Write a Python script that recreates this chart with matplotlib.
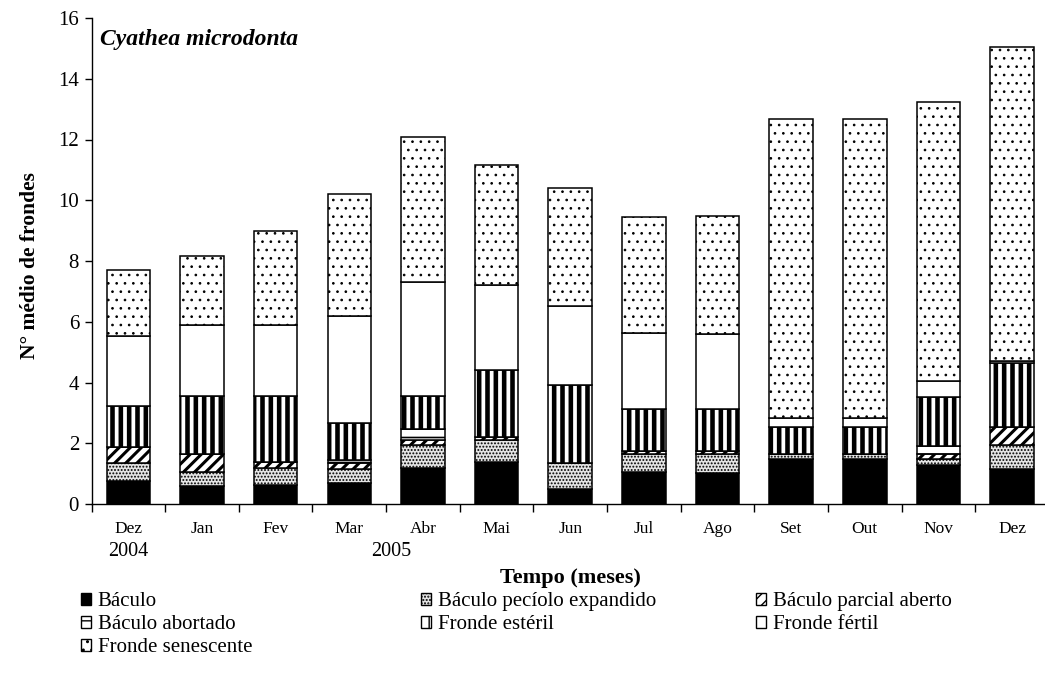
import matplotlib
matplotlib.use('Agg')
import matplotlib.pyplot as plt
from matplotlib.patches import Patch
import matplotlib.transforms as mtransforms

plt.rcParams['font.family'] = ['Liberation Serif', 'DejaVu Serif']

# ---------------- data ----------------
months = ['Dez', 'Jan', 'Fev', 'Mar', 'Abr', 'Mai', 'Jun', 'Jul', 'Ago', 'Set', 'Out', 'Nov', 'Dez']
years = ['2004', '2005']

baculo = [0.76, 0.59, 0.61, 0.68, 1.17, 1.39, 0.49, 1.06, 1.03, 1.48, 1.48, 1.28, 1.15]
peciolo = [0.59, 0.45, 0.56, 0.48, 0.76, 0.73, 0.86, 0.60, 0.63, 0.18, 0.18, 0.19, 0.78]
parcial = [0.53, 0.62, 0.20, 0.19, 0.19, 0.07, 0.00, 0.09, 0.09, 0.00, 0.00, 0.19, 0.60]
abortado = [0.00, 0.00, 0.00, 0.09, 0.36, 0.00, 0.00, 0.00, 0.00, 0.00, 0.00, 0.24, 0.00]
esteril = [1.33, 1.88, 2.17, 1.23, 1.06, 2.23, 2.58, 1.37, 1.37, 0.87, 0.87, 1.62, 2.10]
fertil = [2.33, 2.36, 2.36, 3.53, 3.76, 2.78, 2.59, 2.50, 2.48, 0.31, 0.31, 0.52, 0.09]
senescente = [2.16, 2.27, 3.10, 4.00, 4.77, 3.97, 3.87, 3.83, 3.87, 9.84, 9.84, 9.21, 10.33]

labels = ['Báculo', 'Báculo pecíolo expandido', 'Báculo parcial aberto',
          'Báculo abortado', 'Fronde estéril', 'Fronde fértil', 'Fronde senescente']
values = [baculo, peciolo, parcial, abortado, esteril, fertil, senescente]
yticks = [0, 2, 4, 6, 8, 10, 12, 14, 16]

# styles: facecolor, hatch, hatch linewidth
styles = [
    ('black', None, 1.0),
    ('#e4e4e4', '.....', 0.9),
    ('white', '///', 2.2),
    ('white', '--', 1.2),
    ('white', '||', 3.3),
    ('white', None, 1.0),
    ('white', '..', 0.7),
]

W, H = 1045, 674
fig = plt.figure(figsize=(W / 100, H / 100), dpi=100)
left_px, right_px, top_px, bot_px = 91.5, 1048.9, 18, 504
ax = fig.add_axes([left_px / W, 1 - bot_px / H, (right_px - left_px) / W, (bot_px - top_px) / H])

x = list(range(len(months)))
bottom = [0.0] * len(months)
handles = []
for lab, vals, (fc, hatch, hlw) in zip(labels, values, styles):
    with plt.rc_context({'hatch.linewidth': hlw}):
        bars = ax.bar(x, vals, width=0.59, bottom=bottom, color=fc, edgecolor='black',
                      linewidth=1.1, hatch=hatch)
        for b in bars:
            if hasattr(b, 'set_hatch_linewidth'):
                b.set_hatch_linewidth(hlw)
        h = Patch(facecolor=fc, edgecolor='black', linewidth=1.0, hatch=hatch)
        if hasattr(h, 'set_hatch_linewidth'):
            h.set_hatch_linewidth(min(hlw, 2.0))
    handles.append(h)
    bottom = [b0 + v for b0, v in zip(bottom, vals)]

ax.set_xlim(-0.5, len(months) - 0.5)
ax.set_ylim(0, 16)
ax.set_yticks(yticks)
ax.tick_params(axis='y', direction='out', length=5, width=1, labelsize=15, pad=4)
ax.set_xticks(x)
ax.set_xticklabels(months, fontsize=12.5)
ax.set_xticks([i - 0.5 for i in range(len(months) + 1)], minor=True)
ax.tick_params(axis='x', which='major', length=0, pad=12)
ax.tick_params(axis='x', which='minor', direction='out', length=6, width=1)
for s in ['top', 'right']:
    ax.spines[s].set_visible(False)
for s in ['left', 'bottom']:
    ax.spines[s].set_linewidth(1.0)

# year labels
trans = mtransforms.blended_transform_factory(ax.transData, fig.transFigure)
ax.text(0, 1 - 551 / H, years[0], transform=trans, ha='center', va='center', fontsize=14.5)
ax.text(3.57, 1 - 551 / H, years[1], transform=trans, ha='center', va='center', fontsize=14.5)

# title & axis labels
fig.text(100 / W, 1 - 40 / H, 'Cyathea microdonta', fontsize=17, fontweight='bold',
         fontstyle='italic', ha='left', va='center')
fig.text(30 / W, 1 - 266 / H, 'N° médio de frondes', fontsize=15.5, fontweight='bold',
         rotation=90, ha='center', va='center')
fig.text(570 / W, 1 - 578 / H, 'Tempo (meses)', fontsize=16, fontweight='bold',
         ha='center', va='center')

# legend in three columns, filled row by row
cols = [[0, 3, 6], [1, 4], [2, 5]]
col_x = [81, 421, 756]
for cx, idxs in zip(col_x, cols):
    fig.legend([handles[i] for i in idxs], [labels[i] for i in idxs],
               loc='upper left', bbox_to_anchor=(cx / W, 1 - 592 / H),
               frameon=False, fontsize=15, borderpad=0, borderaxespad=0,
               handlelength=0.5, handleheight=0.5, handletextpad=0.3,
               labelspacing=0.2)

fig.savefig('out.png', dpi=100)
